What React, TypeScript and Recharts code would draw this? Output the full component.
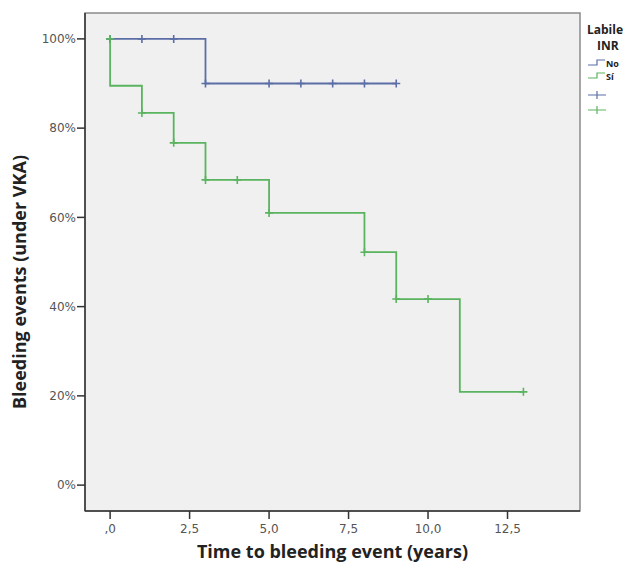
import {
  ComposedChart,
  Line,
  Scatter,
  XAxis,
  YAxis,
  ReferenceArea,
} from "recharts";

// Kaplan-Meier steps (time in years, % without bleeding)
const noSteps = [
  { t: 0, v: 100 },
  { t: 3, v: 90 },
  { t: 9, v: 90 },
];
const siSteps = [
  { t: 0, v: 100 },
  { t: 0, v: 89.5 },
  { t: 1, v: 83.4 },
  { t: 2, v: 76.7 },
  { t: 3, v: 68.4 },
  { t: 5, v: 61 },
  { t: 8, v: 52.2 },
  { t: 9, v: 41.7 },
  { t: 11, v: 20.9 },
  { t: 13, v: 20.9 },
];

// censored observations
const noCensored = [
  { t: 0, v: 100 },
  { t: 1, v: 100 },
  { t: 2, v: 100 },
  { t: 3, v: 90 },
  { t: 5, v: 90 },
  { t: 6, v: 90 },
  { t: 7, v: 90 },
  { t: 8, v: 90 },
  { t: 9, v: 90 },
];
const siCensored = [
  { t: 0, v: 100 },
  { t: 1, v: 83.4 },
  { t: 2, v: 76.7 },
  { t: 3, v: 68.4 },
  { t: 4, v: 68.4 },
  { t: 5, v: 61 },
  { t: 8, v: 52.2 },
  { t: 9, v: 41.7 },
  { t: 10, v: 41.7 },
  { t: 13, v: 20.9 },
];

const xTicks = [0, 2.5, 5, 7.5, 10, 12.5];
const yTicks = [0, 20, 40, 60, 80, 100];

const BLUE = "#5b6fa6";
const GREEN = "#5ab45f";

const xDomain = [-0.79, 14.78];
const yDomain = [-5.8, 105.8];

const fmtX = (v: number) => (v === 0 ? ",0" : v.toFixed(1).replace(".", ","));

function plus(color: string) {
  return (props: any) => {
    const { cx, cy } = props;
    return (
      <path
        d={`M${cx - 4},${cy}h8M${cx},${cy - 4}v8`}
        stroke={color}
        strokeWidth={1.6}
        fill="none"
      />
    );
  };
}

function LegendBox() {
  const step = "M0,6 h9 v-5 h8";
  return (
    <div
      style={{
        position: "absolute",
        left: 584,
        top: 22,
        fontFamily: "'Open Sans', sans-serif",
        color: "#222",
      }}
    >
      <div style={{ fontWeight: 700, fontSize: 12, lineHeight: "16px", paddingLeft: 3 }}>
        Labile
      </div>
      <div style={{ fontWeight: 700, fontSize: 12, lineHeight: "16px", paddingLeft: 13 }}>
        INR
      </div>
      <svg width={60} height={70} style={{ display: "block", marginTop: 1 }}>
        <path d={step} transform="translate(4,4)" stroke={BLUE} fill="none" strokeWidth={1.2} />
        <text x={22} y={12} fontSize={9} fontWeight={700} fill="#222">No</text>
        <path d={step} transform="translate(4,17)" stroke={GREEN} fill="none" strokeWidth={1.2} />
        <text x={22} y={25} fontSize={9} fontWeight={700} fill="#222">Sí</text>
        <path d="M4,40h18M13,36v8" stroke={BLUE} strokeWidth={1.2} />
        <path d="M4,55h18M13,51v8" stroke={GREEN} strokeWidth={1.2} />
      </svg>
    </div>
  );
}

export default function App() {
  return (
    <div
      style={{
        position: "absolute",
        left: 0,
        top: 0,
        width: 637,
        height: 565,
        overflow: "hidden",
        background: "#fff",
      }}
    >
      <ComposedChart
        width={637}
        height={565}
        margin={{ top: 13, right: 57, bottom: 0, left: 0 }}
      >
        <ReferenceArea
          x1={xDomain[0]}
          x2={xDomain[1]}
          y1={yDomain[0]}
          y2={yDomain[1]}
          fill="#f0f0f0"
          fillOpacity={1}
          stroke="#8a8a8a"
          strokeWidth={1.5}
        />
        <XAxis
          type="number"
          dataKey="t"
          domain={xDomain}
          ticks={xTicks}
          tickFormatter={fmtX}
          allowDataOverflow
          height={54}
          tickSize={8}
          tickMargin={5}
          stroke="#333"
          strokeWidth={1.5}
          tick={{ fontSize: 12, fill: "#555", fontFamily: "'DejaVu Sans', sans-serif" }}
          label={{
            value: "Time to bleeding event (years)",
            position: "insideBottom",
            offset: 7,
            fill: "#222",
            fontSize: 18,
            fontWeight: 700,
            fontFamily: "'Open Sans', sans-serif",
          }}
        />
        <YAxis
          type="number"
          domain={yDomain}
          ticks={yTicks}
          tickFormatter={(v: number) => `${v}%`}
          allowDataOverflow
          width={85}
          tickSize={8}
          tickMargin={1}
          stroke="#333"
          strokeWidth={1.5}
          tick={{ fontSize: 12, fill: "#555", fontFamily: "'DejaVu Sans', sans-serif" }}
          label={{
            value: "Bleeding events (under VKA)",
            angle: -90,
            position: "center",
            dx: -23,
            dy: 20,
            fill: "#222",
            fontSize: 18,
            fontWeight: 700,
            fontFamily: "'Open Sans', sans-serif",
          }}
        />
        <Line
          data={noSteps}
          dataKey="v"
          type="stepAfter"
          stroke={BLUE}
          strokeWidth={1.8}
          dot={false}
          activeDot={false}
          isAnimationActive={false}
        />
        <Line
          data={siSteps}
          dataKey="v"
          type="stepAfter"
          stroke={GREEN}
          strokeWidth={1.8}
          dot={false}
          activeDot={false}
          isAnimationActive={false}
        />
        <Scatter
          data={noCensored}
          dataKey="v"
          shape={plus(BLUE)}
          isAnimationActive={false}
        />
        <Scatter
          data={siCensored}
          dataKey="v"
          shape={plus(GREEN)}
          isAnimationActive={false}
        />
      </ComposedChart>
      <LegendBox />
    </div>
  );
}
